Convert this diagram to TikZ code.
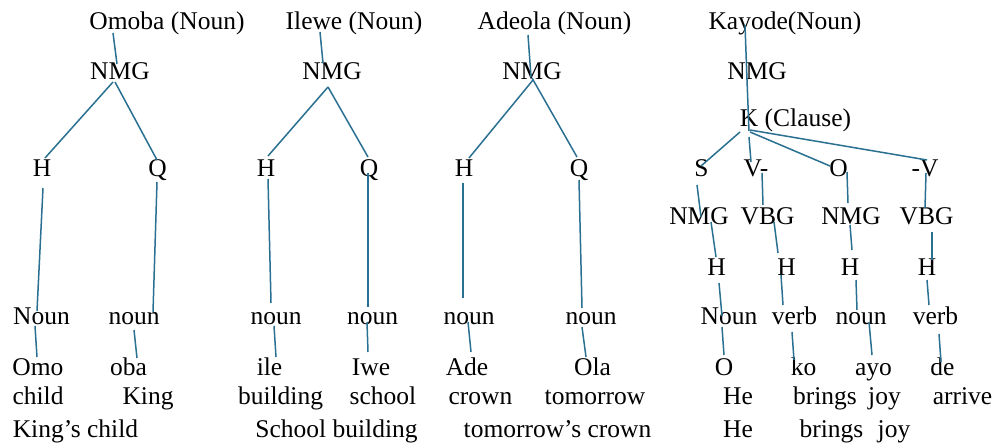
\documentclass[tikz,border=0pt]{standalone}
\usepackage{fontspec}
\setmainfont{Liberation Serif}
\usetikzlibrary{calc}
\definecolor{lnkcol}{RGB}{42,112,145}
\tikzset{
  lbl/.style={inner sep=0pt, anchor=base, text=black, font=\fontsize{25.5}{30}\selectfont},
  lnk/.style={draw=lnkcol, line width=1.5pt}
}
\newcommand\lk[4]{\draw[lnk] ($(#1.base)+(#2)$) -- ($(#3.base)+(#4)$);}
\begin{document}
\begin{tikzpicture}[x=1pt,y=-1pt]
\useasboundingbox[fill=white] (0,0) rectangle (995,446);
% ---------------- Tree 1
\node[lbl] (t1) at (167,30) {Omoba (Noun)};
\node[lbl] (n1) at (120,80) {NMG};
\node[lbl] (h1) at (42,177) {H};
\node[lbl] (q1) at (157.5,177) {Q};
\node[lbl] (a1) at (41.5,324) {Noun};
\node[lbl] (b1) at (134,324) {noun};
\node[lbl] (w1) at (38,375) {Omo};
\node[lbl] (v1) at (128.5,375) {oba};
\node[lbl] (g1) at (38,404) {child};
\node[lbl] (k1) at (148,404) {King};
\node[lbl] (r1) at (75.5,437) {King’s child};
% ---------------- Tree 2
\node[lbl] (t2) at (354,30) {Ilewe (Noun)};
\node[lbl] (n2) at (332,80) {NMG};
\node[lbl] (h2) at (266,177) {H};
\node[lbl] (q2) at (369,177) {Q};
\node[lbl] (a2) at (276,324) {noun};
\node[lbl] (b2) at (372.5,324) {noun};
\node[lbl] (w2) at (269.5,375) {ile};
\node[lbl] (v2) at (371,375) {Iwe};
\node[lbl] (g2) at (280.5,404) {building};
\node[lbl] (k2) at (383,404) {school};
\node[lbl] (r2) at (336.5,437) {School building};
% ---------------- Tree 3
\node[lbl] (t3) at (554.5,30) {Adeola (Noun)};
\node[lbl] (n3) at (532,80) {NMG};
\node[lbl] (h3) at (464,177) {H};
\node[lbl] (q3) at (579,177) {Q};
\node[lbl] (a3) at (469,324) {noun};
\node[lbl] (b3) at (591,324) {noun};
\node[lbl] (w3) at (467,375) {Ade};
\node[lbl] (v3) at (592.5,375) {Ola};
\node[lbl] (g3) at (480.5,404) {crown};
\node[lbl] (k3) at (595,404) {tomorrow};
\node[lbl] (r3) at (557.5,437) {tomorrow’s crown};
% ---------------- Tree 4
\node[lbl] (t4) at (785,30) {Kayode(Noun)};
\node[lbl] (n4) at (757,80) {NMG};
\node[lbl] (c4) at (795.5,127) {K (Clause)};
\node[lbl] (s4) at (701.5,177) {S};
\node[lbl] (vv4) at (756,177) {V-};
\node[lbl] (o4) at (838.5,177) {O};
\node[lbl] (mv4) at (925,177) {-V};
\node[lbl] (ns4) at (699,225) {NMG};
\node[lbl] (vb4) at (767.5,225) {VBG};
\node[lbl] (no4) at (851,225) {NMG};
\node[lbl] (vm4) at (926.5,225) {VBG};
\node[lbl] (hA) at (716.5,276) {H};
\node[lbl] (hB) at (786.5,276) {H};
\node[lbl] (hC) at (850,276) {H};
\node[lbl] (hD) at (927,276) {H};
\node[lbl] (pA) at (729,324) {Noun};
\node[lbl] (pB) at (794.5,324) {verb};
\node[lbl] (pC) at (861,324) {noun};
\node[lbl] (pD) at (935.5,324) {verb};
\node[lbl] (wA) at (724,375) {O};
\node[lbl] (wB) at (803.5,375) {ko};
\node[lbl] (wC) at (873.5,375) {ayo};
\node[lbl] (wD) at (942.5,375) {de};
\node[lbl] (gA) at (738,404) {He};
\node[lbl] (gB) at (825,404) {brings};
\node[lbl] (gC) at (884.5,404) {joy};
\node[lbl] (gD) at (962.5,404) {arrive};
\node[lbl] (rA) at (738,437) {He};
\node[lbl] (rB) at (831.5,437) {brings};
\node[lbl] (rC) at (894,437) {joy};
% ---------------- connectors tree 1
\lk{t1}{-54,3}{n1}{-3,-16}
\lk{n1}{-7,2}{h1}{3,-19}
\lk{n1}{-5,2}{q1}{-0.5,-17}
\lk{h1}{1,11}{a1}{-4.5,-13}
\lk{a1}{-6.5,2}{w1}{-1,-18}
\lk{q1}{-0.5,5}{b1}{19,-12}
\lk{b1}{0,6}{v1}{8.5,-17}
% ---------------- connectors tree 2
\lk{t2}{-34,2}{n2}{-9,-17}
\lk{n2}{-4,7}{h2}{2,-21}
\lk{n2}{-4,7}{q2}{-1,-20}
\lk{h2}{2,2}{a2}{-5,-21}
\lk{a2}{-2,2}{w2}{6.5,-18}
\lk{q2}{-1,-4}{b2}{-4.5,-17}
\lk{b2}{-5.5,-2}{v2}{-3,-23}
% ---------------- connectors tree 3
\lk{t3}{-26.5,5}{n3}{-1,-3}
\lk{n3}{1,0}{h3}{5,-19}
\lk{n3}{0,-2}{q3}{-2,-20}
\lk{h3}{-1,6}{a3}{-6,-26}
\lk{a3}{-1,-2}{w3}{4,-23}
\lk{q3}{0,3}{b3}{-9,-16}
\lk{b3}{-9,3}{v3}{-6.5,-18}
% ---------------- connectors tree 4
\lk{t4}{-40,-5}{n4}{-10,0}
\lk{n4}{-10,0}{c4}{-46.5,4}
\lk{c4}{-55.5,5}{s4}{-0.5,-11}
\lk{c4}{-46.5,10}{vv4}{-5,-15}
\lk{c4}{-45.5,5}{o4}{-8.5,-11}
\lk{c4}{-45.5,3}{mv4}{2,-17}
\lk{s4}{-4.5,8}{ns4}{2,-8}
\lk{vv4}{6,-4}{vb4}{-4.5,-20}
\lk{o4}{8.5,-5}{no4}{-3,-22}
\lk{mv4}{1,-4}{vm4}{-1.5,-17}
\lk{ns4}{12,-3}{hA}{-0.5,-19}
\lk{vb4}{6.5,-3}{hB}{-8.5,-23}
\lk{no4}{-1,0}{hC}{2,-26}
\lk{vm4}{5.5,7}{hD}{5,-16}
\lk{hA}{2.5,7}{pA}{-7,-8}
\lk{hB}{-5.5,-1}{pB}{-11.5,-19}
\lk{hC}{6,4}{pC}{-4,-14}
\lk{hD}{0,4}{pD}{-6.5,-19}
\lk{pA}{-7,3}{wA}{0,-20}
\lk{pB}{-2.5,8}{wB}{-9.5,-15}
\lk{pC}{8,-2}{wC}{-1.5,-20}
\lk{pD}{3.5,10}{wD}{-1.5,-13}
\end{tikzpicture}
\end{document}
